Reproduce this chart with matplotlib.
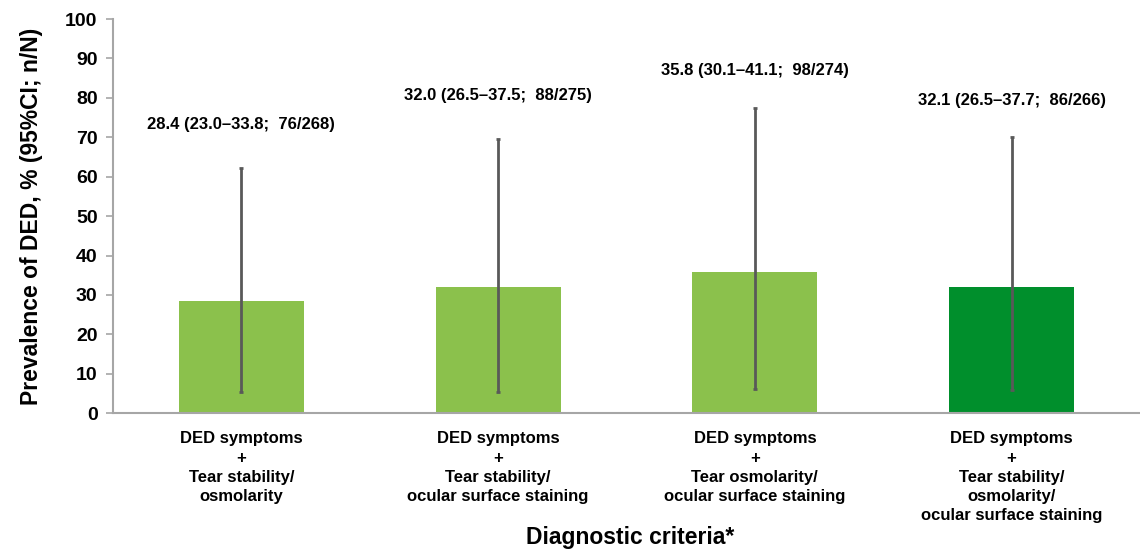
import matplotlib.pyplot as plt
import numpy as np

categories = [
    "DED symptoms\n+\nTear stability/\nosmolarity",
    "DED symptoms\n+\nTear stability/\nocular surface staining",
    "DED symptoms\n+\nTear osmolarity/\nocular surface staining",
    "DED symptoms\n+\nTear stability/\nosmolarity/\nocular surface staining",
]
prevalence = [28.4, 32.0, 35.8, 32.1]
err_low = [5.3, 5.4, 6.1, 5.9]
err_high = [62.2, 69.5, 77.4, 70.0]
labels = [
    "28.4 (23.0\u201333.8;  76/268)",
    "32.0 (26.5\u201337.5;  88/275)",
    "35.8 (30.1\u201341.1;  98/274)",
    "32.1 (26.5\u201337.7;  86/266)",
]
label_y = [73.3, 80.7, 87.0, 79.3]
colors = ["#8BC14C", "#8BC14C", "#8BC14C", "#008F2C"]

plt.rcParams["font.family"] = ["Liberation Sans", "DejaVu Sans"]
plt.rcParams["font.weight"] = "bold"

fig = plt.figure(figsize=(11.4, 5.51), dpi=100)
ax = fig.add_axes([0.099, 0.25, 0.901, 0.7155])

x = np.arange(len(categories))
ax.bar(x, prevalence, width=0.487, color=colors, zorder=2)
yerr = [np.array(prevalence) - np.array(err_low), np.array(err_high) - np.array(prevalence)]
ax.errorbar(x, prevalence, yerr=yerr, fmt="none", ecolor="#595959",
            elinewidth=2, capsize=1.5, capthick=2, zorder=3)

for xi, txt, yi in zip(x, labels, label_y):
    ax.text(xi, yi, txt, ha="center", va="center", fontsize=12, fontweight="bold")

ax.set_xlim(-0.5, 3.5)
ax.set_ylim(0, 100)
ax.set_yticks(range(0, 101, 10))
ax.tick_params(axis="y", labelsize=14, length=5, color="#A6A6A6", width=1.2, pad=6)
ax.tick_params(axis="x", length=0, pad=13)
ax.set_xticks(x)
ax.set_xticklabels(categories, fontsize=12, fontweight="bold", linespacing=1.35)

for s in ["top", "right"]:
    ax.spines[s].set_visible(False)
for s in ["left", "bottom"]:
    ax.spines[s].set_color("#A6A6A6")
    ax.spines[s].set_linewidth(1.5)

ax.set_ylabel("Prevalence of DED, % (95%CI; n/N)", fontsize=16.5, fontweight="bold", labelpad=16)
fig.text(0.553, 0.024, "Diagnostic criteria*", ha="center", va="center",
         fontsize=16.5, fontweight="bold")

plt.savefig("out.png", dpi=100)
